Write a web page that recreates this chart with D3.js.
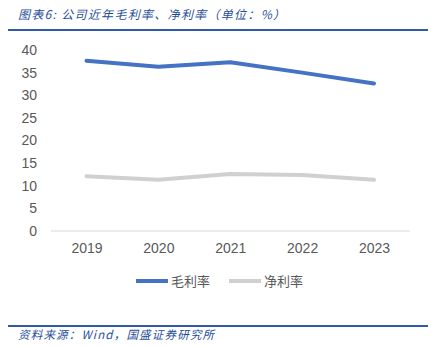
<!DOCTYPE html>
<html>
<head>
<meta charset="utf-8">
<script src="https://cdn.jsdelivr.net/npm/d3@7"></script>
<style>
  html, body { margin: 0; padding: 0; background: #fff; }
  svg { display: block; }
</style>
</head>
<body>
<svg id="chart" width="438" height="346"></svg>
<script>
// Gross and net margin by year (%)
const years = ["2019", "2020", "2021", "2022", "2023"];
const grossMargin = [37.6, 36.3, 37.3, 35.0, 32.6];
const netMargin = [12.1, 11.3, 12.6, 12.4, 11.3];
const yTicks = [0, 5, 10, 15, 20, 25, 30, 35, 40];
const seriesNames = ["毛利率", "净利率"];
const seriesColors = ["#4472C4", "#D0D0D0"];

const svg = d3.select("#chart");
const titleColor = "#1F4E9C";
const cjk = "'Noto Sans CJK SC', sans-serif";

// Header
svg.append("text")
  .attr("x", 18).attr("y", 19)
  .attr("font-family", cjk).attr("font-size", 12)
  .attr("font-style", "italic")
  .attr("letter-spacing", 1.3)
  .attr("fill", titleColor)
  .text("图表6:  公司近年毛利率、净利率（单位：%）");
svg.append("line")
  .attr("x1", 8).attr("x2", 428).attr("y1", 30).attr("y2", 30)
  .attr("stroke", "#2E5AA8").attr("stroke-width", 2);

// Scales
const x = d3.scalePoint().domain(years).range([86.5, 374]);
const y = d3.scaleLinear().domain([0, 40]).range([231, 50]);

// Y axis labels
const yAxis = d3.axisLeft(y).tickValues(yTicks).tickSize(0).tickPadding(0);
svg.append("g")
  .attr("transform", "translate(37,0)")
  .call(yAxis)
  .call(g => g.select(".domain").remove())
  .call(g => g.selectAll("text")
    .attr("font-family", "'Liberation Sans', Arial, sans-serif")
    .attr("font-size", 14).attr("fill", "#595959"));

// Baseline
svg.append("line")
  .attr("x1", 51).attr("x2", 410).attr("y1", y(0)).attr("y2", y(0))
  .attr("stroke", "#D9D9D9").attr("stroke-width", 1);

// X axis labels
const xAxis = d3.axisBottom(x).tickSize(0).tickPadding(0);
svg.append("g")
  .attr("transform", "translate(0,243)")
  .call(xAxis)
  .call(g => g.select(".domain").remove())
  .call(g => g.selectAll("text")
    .attr("font-family", "'Liberation Sans', Arial, sans-serif")
    .attr("font-size", 14).attr("fill", "#595959"));

// Lines
const line = d3.line().x((d, i) => x(years[i])).y(d => y(d));
[netMargin, grossMargin].forEach((vals, k) => {
  const color = k === 0 ? seriesColors[1] : seriesColors[0];
  svg.append("path")
    .datum(vals)
    .attr("d", line)
    .attr("fill", "none")
    .attr("stroke", color)
    .attr("stroke-width", 4)
    .attr("stroke-linejoin", "round")
    .attr("stroke-linecap", "round");
});

// Legend
const legendItems = [
  { name: seriesNames[0], color: seriesColors[0], x: 136 },
  { name: seriesNames[1], color: seriesColors[1], x: 229 }
];
legendItems.forEach(item => {
  svg.append("line")
    .attr("x1", item.x).attr("x2", item.x + 32)
    .attr("y1", 281).attr("y2", 281)
    .attr("stroke", item.color).attr("stroke-width", 4);
  svg.append("text")
    .attr("x", item.x + 35).attr("y", 286)
    .attr("font-family", cjk).attr("font-size", 13)
    .attr("fill", "#595959")
    .text(item.name);
});

// Footer
svg.append("line")
  .attr("x1", 8).attr("x2", 428).attr("y1", 326).attr("y2", 326)
  .attr("stroke", "#2E5AA8").attr("stroke-width", 2);
svg.append("text")
  .attr("x", 18).attr("y", 339)
  .attr("font-family", cjk).attr("font-size", 11.5)
  .attr("font-style", "italic")
  .attr("letter-spacing", 1.2)
  .attr("fill", titleColor)
  .text("资料来源：Wind，国盛证券研究所");
</script>
</body>
</html>
